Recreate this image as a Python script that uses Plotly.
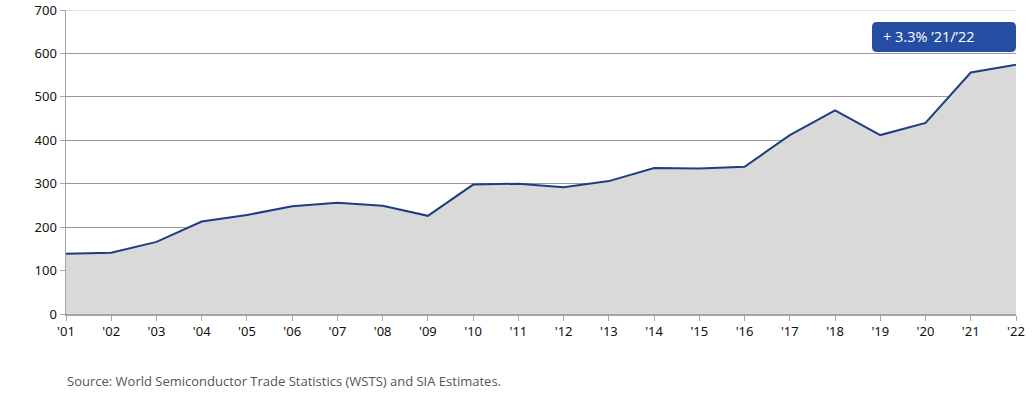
import plotly.graph_objects as go

years = ["'01", "'02", "'03", "'04", "'05", "'06", "'07", "'08", "'09", "'10", "'11",
         "'12", "'13", "'14", "'15", "'16", "'17", "'18", "'19", "'20", "'21", "'22"]
sales = [139, 141, 166, 213, 228, 248, 256, 249, 226, 298, 300,
         292, 306, 336, 335, 339, 412, 469, 412, 440, 556, 574]
y_ticks = [0, 100, 200, 300, 400, 500, 600, 700]
idx = list(range(len(years)))

fig = go.Figure()
fig.add_trace(go.Scatter(
    x=idx, y=sales, mode="lines", fill="tozeroy",
    fillcolor="#d9d9d9", line=dict(color="#1f3d84", width=2),
    hoverinfo="skip", showlegend=False,
))

W, H = 1034, 398
ml, mr, mt, mb = 66, 18, 10, 84
pw, ph = W - ml - mr, H - mt - mb


def px_x(p):
    return (p - ml) / pw


def px_y(p):
    return (H - mb - p) / ph


# top gridline (range edge)
fig.add_shape(type="line", xref="paper", yref="y", x0=0, x1=1,
              y0=y_ticks[-1], y1=y_ticks[-1],
              line=dict(color="#c4c4c4", width=1), layer="below")

# rounded box for callout
x0, x1, y0, y1 = px_x(872), px_x(1016), px_y(52), px_y(22)
rx, ry = 5 / pw, 5 / ph
path = (f"M {x0+rx},{y0} L {x1-rx},{y0} Q {x1},{y0} {x1},{y0+ry} "
        f"L {x1},{y1-ry} Q {x1},{y1} {x1-rx},{y1} L {x0+rx},{y1} "
        f"Q {x0},{y1} {x0},{y1-ry} L {x0},{y0+ry} Q {x0},{y0} {x0+rx},{y0} Z")
fig.add_shape(type="path", path=path, xref="paper", yref="paper",
              fillcolor="#254ea3", line=dict(width=0), layer="above")
fig.add_annotation(x=px_x(881), y=px_y(37), xref="paper", yref="paper",
                   text="+ 3.3% \u201921/\u201922", showarrow=False,
                   xanchor="left", yanchor="middle",
                   font=dict(family="Open Sans, sans-serif", size=14.5, color="white"))

fig.add_annotation(x=px_x(65), y=px_y(381), xref="paper", yref="paper",
                   text="Source: World Semiconductor Trade Statistics (WSTS) and SIA Estimates.",
                   showarrow=False, xanchor="left", yanchor="middle",
                   font=dict(family="Open Sans, sans-serif", size=13, color="#555555"))

fig.update_layout(
    width=W, height=H,
    margin=dict(l=ml, r=mr, t=mt, b=mb),
    paper_bgcolor="white", plot_bgcolor="white",
    font=dict(family="Noto Sans, sans-serif", size=13, color="#111111"),
)
fig.update_xaxes(
    range=[0, len(years) - 1], tickmode="array", tickvals=idx, ticktext=years,
    showgrid=False, showline=True, linecolor="#a6a6a6", linewidth=1.5,
    ticks="outside", ticklen=5, tickcolor="#a6a6a6", fixedrange=True,
    tickfont=dict(size=13, color="#111111"), automargin=False,
    ticklabeloverflow="allow",
)
fig.update_yaxes(
    range=[0, 700], tickmode="array", tickvals=y_ticks,
    showgrid=True, gridcolor="#9a9a9a", gridwidth=1,
    showline=True, linecolor="#a6a6a6", linewidth=1.5,
    ticks="outside", ticklen=5, tickcolor="#a6a6a6", zeroline=False,
    tickfont=dict(size=13, color="#111111"), fixedrange=True, automargin=False,
    ticklabeloverflow="allow",
)

fig.write_html(
    "out.html",
    config={"displayModeBar": False, "staticPlot": True},
    post_script="document.body.style.margin='0';document.body.style.overflow='hidden';",
)
